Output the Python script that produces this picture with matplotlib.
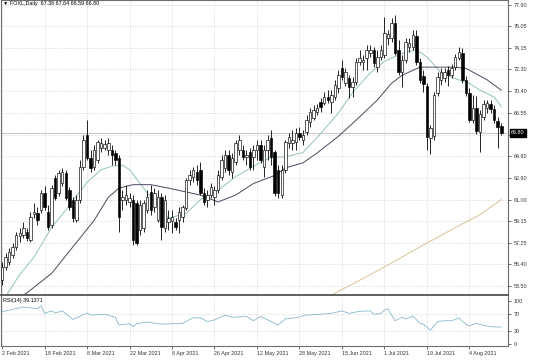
import matplotlib.pyplot as plt
import matplotlib.transforms as mtransforms
import numpy as np

plt.rcParams["font.family"] = ["Liberation Sans", "DejaVu Sans"]

# ---------------------------------------------------------------------
# Data (FOXL daily)
# ---------------------------------------------------------------------
opens = [
    54.03, 55.16, 55.59, 56.20, 56.89, 57.85, 57.93, 58.19, 57.50, 59.76,
    59.84, 60.11, 61.58, 59.93, 58.80, 62.88, 61.58, 62.45, 63.32, 61.84,
    60.97, 59.24, 60.97, 63.84, 66.61, 64.62, 63.84, 64.45, 65.49, 65.49,
    65.31, 65.31, 65.05, 64.62, 60.97, 60.97, 60.80, 60.97, 60.71, 58.37,
    58.54, 60.11, 61.67, 60.36, 59.24, 61.23, 58.54, 59.06, 59.15, 59.06,
    59.24, 59.50, 60.28, 62.71, 62.97, 63.40, 63.58, 61.58, 60.97, 61.41,
    61.23, 61.84, 62.97, 63.75, 64.88, 63.40, 64.27, 65.31, 65.31, 64.71,
    65.14, 64.71, 65.31, 65.75, 63.84, 65.31, 66.35, 65.14, 63.58, 61.41,
    63.58, 65.92, 65.92, 66.01, 66.79, 66.18, 66.87, 67.74, 68.09, 68.61,
    69.48, 69.39, 69.91, 69.48, 69.91, 70.69, 72.43, 71.13, 71.56, 70.78,
    71.22, 72.95, 72.95, 73.30, 73.73, 73.99, 72.52, 73.39, 73.56, 75.04,
    75.04, 76.34, 73.99, 72.08, 73.13, 74.25, 74.25, 75.21, 72.95, 71.74,
    70.87, 66.35, 66.53, 70.26, 71.39, 71.56, 72.26, 71.82, 72.52, 73.30,
    73.73, 71.39, 70.26, 67.92, 68.96, 66.87, 68.18, 68.96, 69.31, 68.87,
    67.83, 67.38,
]
highs = [
    55.59, 56.37, 56.81, 57.24, 58.19, 58.54, 59.06, 58.54, 59.93, 60.71,
    60.36, 61.84, 62.19, 60.54, 62.27, 63.14, 63.58, 63.75, 63.58, 62.10,
    61.23, 61.41, 64.45, 66.61, 67.92, 65.31, 65.75, 66.18, 66.35, 66.18,
    66.35, 65.75, 65.31, 64.88, 61.84, 62.27, 61.58, 61.41, 60.97, 60.97,
    60.97, 61.84, 62.27, 62.01, 61.84, 61.58, 61.41, 60.11, 60.11, 59.41,
    60.36, 60.54, 62.88, 63.58, 63.84, 64.01, 64.27, 62.01, 61.84, 62.45,
    62.19, 63.58, 64.88, 65.31, 65.31, 65.05, 66.18, 66.61, 65.75, 65.31,
    65.49, 65.75, 66.18, 66.18, 65.75, 66.61, 67.05, 65.31, 64.01, 64.01,
    66.18, 66.79, 67.05, 67.22, 67.31, 67.05, 68.35, 68.96, 69.22, 69.31,
    69.83, 70.35, 70.52, 70.52, 71.39, 72.26, 73.13, 72.43, 71.82, 71.65,
    73.30, 73.99, 73.56, 74.43, 74.43, 74.25, 73.99, 74.43, 76.86, 75.73,
    76.77, 77.03, 74.86, 73.56, 75.04, 75.04, 75.73, 75.73, 73.30, 72.26,
    71.13, 67.48, 70.35, 72.08, 72.43, 72.43, 72.60, 72.78, 73.65, 74.25,
    74.17, 71.74, 70.69, 70.09, 70.00, 68.79, 69.65, 69.65, 69.65, 69.22,
    68.18, 67.64,
]
lows = [
    53.59, 54.90, 55.33, 55.94, 56.63, 57.33, 57.67, 57.41, 57.33, 59.41,
    58.80, 59.84, 60.11, 58.37, 58.54, 60.97, 61.32, 62.19, 60.97, 60.11,
    59.06, 59.06, 60.71, 63.58, 64.45, 63.40, 63.58, 64.18, 65.14, 65.31,
    64.88, 64.01, 64.01, 58.19, 60.11, 60.54, 60.36, 57.07, 57.07, 57.93,
    58.19, 59.84, 59.67, 59.93, 59.06, 57.50, 58.19, 58.37, 58.11, 58.37,
    58.11, 59.06, 60.11, 62.27, 62.53, 62.27, 61.41, 60.54, 60.36, 61.15,
    60.54, 61.58, 62.71, 63.40, 63.14, 62.88, 64.01, 64.88, 64.45, 64.01,
    63.58, 63.58, 64.45, 64.18, 62.97, 64.45, 64.01, 61.32, 61.15, 61.15,
    63.32, 65.49, 65.31, 65.31, 66.18, 65.75, 66.61, 67.31, 67.92, 68.35,
    68.61, 69.22, 69.39, 68.53, 69.65, 70.26, 71.39, 70.87, 69.83, 69.91,
    70.96, 72.69, 72.26, 72.26, 73.39, 72.52, 72.08, 73.13, 73.30, 74.43,
    74.69, 73.56, 71.82, 70.78, 72.86, 73.82, 73.99, 72.69, 71.13, 70.35,
    65.31, 64.97, 66.18, 70.00, 70.96, 71.22, 70.87, 71.56, 72.26, 73.13,
    71.13, 70.00, 67.74, 67.66, 66.70, 65.14, 67.92, 68.53, 68.53, 67.66,
    65.49, 66.59,
]
closes = [
    55.16, 56.02, 56.46, 56.89, 57.93, 58.11, 58.54, 57.67, 59.50, 59.93,
    59.24, 61.58, 60.36, 58.63, 62.01, 61.15, 63.32, 63.40, 61.15, 60.36,
    59.41, 60.97, 63.84, 66.18, 64.62, 63.75, 65.31, 66.01, 65.92, 65.83,
    65.92, 64.88, 64.45, 59.50, 61.23, 61.41, 61.15, 57.50, 57.24, 60.54,
    60.71, 61.23, 60.11, 61.58, 61.23, 58.63, 60.97, 59.41, 59.50, 58.63,
    59.93, 60.36, 62.71, 63.14, 63.58, 62.71, 61.58, 60.80, 61.41, 62.10,
    61.84, 63.14, 64.45, 64.88, 63.58, 64.62, 65.92, 66.18, 64.71, 64.88,
    63.84, 65.31, 65.75, 64.45, 65.31, 66.18, 64.71, 61.58, 61.58, 63.58,
    66.01, 66.44, 66.18, 66.79, 66.44, 66.61, 67.92, 68.61, 68.79, 68.96,
    69.05, 69.91, 69.65, 70.09, 70.96, 71.82, 71.65, 72.08, 70.78, 71.22,
    72.95, 73.30, 73.13, 73.99, 73.99, 72.86, 73.39, 73.99, 75.47, 75.38,
    76.34, 73.73, 72.08, 73.13, 74.69, 74.60, 75.30, 72.95, 71.39, 71.04,
    66.44, 67.22, 70.09, 71.65, 72.08, 72.08, 71.82, 72.43, 73.39, 73.82,
    71.39, 70.26, 67.92, 68.96, 66.96, 68.44, 69.31, 69.39, 68.87, 67.92,
    67.31, 66.80,
]

date_labels = [
    "2 Feb 2021", "18 Feb 2021", "8 Mar 2021", "22 Mar 2021", "8 Apr 2021",
    "26 Apr 2021", "12 May 2021", "28 May 2021", "15 Jun 2021", "1 Jul 2021",
    "19 Jul 2021", "4 Aug 2021",
]
bars_per_label = 12

price_ticks = [77.90, 76.05, 74.15, 72.30, 70.40, 68.55, 66.65, 64.80,
               62.90, 61.00, 59.15, 57.25, 55.40, 53.50]

# moving averages, sampled along the chart (bar index, price)
ma_fast_bar = [0, 5, 9, 14, 18, 24, 28, 31, 34, 36, 39, 42, 45, 47, 52, 56,
               61, 66, 71, 76, 80, 85, 89, 95, 99, 104, 108, 113, 117, 120,
               124, 128, 132, 135, 139, 141]
ma_fast_val = [52.1, 54.5, 56.0, 58.6, 60.1, 62.5, 63.6, 63.9, 64.0, 63.6,
               62.4, 61.2, 60.1, 59.4, 59.8, 61.0, 61.8, 63.0, 63.9, 64.7,
               64.7, 65.1, 66.4, 68.5, 70.3, 72.0, 73.0, 73.7, 74.0, 73.4,
               72.0, 71.5, 71.1, 70.5, 69.9, 69.1]

ma_slow_bar = [4, 7, 14, 20, 26, 30, 33, 37, 42, 47, 50, 56, 61, 66, 71, 77,
               80, 85, 89, 95, 100, 106, 110, 113, 118, 122, 128, 131, 137, 141]
ma_slow_val = [52.4, 52.9, 54.6, 56.9, 59.2, 61.2, 62.0, 62.3, 62.3, 62.0,
               61.8, 61.4, 60.8, 61.4, 62.4, 63.1, 63.75, 64.2, 65.05, 66.5,
               67.9, 69.65, 71.1, 71.8, 72.5, 72.5, 72.5, 72.4, 71.4, 70.5]

ma_long_bar = [92, 101, 110, 118, 127, 135, 141]
ma_long_val = [52.55, 54.0, 55.5, 56.9, 58.4, 59.7, 61.0]

# RSI(14), sampled along the chart
rsi_bar = [0, 6, 10, 11, 12, 14, 15, 17, 20, 24, 25, 29, 32, 33, 36, 37, 38,
           41, 44, 46, 51, 54, 56, 58, 60, 63, 65, 69, 71, 73, 78, 80, 83, 86,
           93, 96, 98, 101, 104, 105, 107, 108, 109, 111, 113, 114, 116, 118,
           119, 121, 123, 125, 127, 129, 131, 132, 134, 136, 138, 141]
rsi_val = [75, 86, 82, 89, 71, 77, 72, 77, 57, 72, 67, 69, 62, 44, 47, 40,
           47, 51, 47, 46, 48, 61, 61, 52, 56, 67, 62, 64, 54, 64, 44, 58, 61,
           67, 71, 77, 71, 76, 77, 69, 71, 79, 82, 54, 62, 58, 65, 48, 46, 32,
           52, 54, 54, 60, 46, 42, 48, 43, 40, 39.1371]
rsi_levels = [100, 70, 30, 0]

last_price = closes[-1]

# ---------------------------------------------------------------------
# Figure
# ---------------------------------------------------------------------
W, H = 536, 362
fig = plt.figure(figsize=(W / 100, H / 100), dpi=100)
ax = fig.add_axes([1 / W, 1 - 294 / H, 507 / W, 294 / H])
axr = fig.add_axes([1 / W, 1 - 346 / H, 507 / W, 51 / H], sharex=ax)

FS = 3.9
GRID = dict(color="#c8c8c8", lw=0.5, ls=(0, (1, 1.5)))
FRAME = "#6e6e6e"

x = np.arange(len(closes))
o = np.array(opens)
c = np.array(closes)
up = c >= o

# candles
ax.vlines(x, lows, highs, color="black", lw=0.6, zorder=3)
body_lo = np.minimum(o, c)
body_h = np.maximum(np.abs(c - o), 0.04)
ax.bar(x[up], body_h[up], bottom=body_lo[up], width=0.7,
       color="white", edgecolor="black", linewidth=0.45, zorder=4)
ax.bar(x[~up], body_h[~up], bottom=body_lo[~up], width=0.7,
       color="black", edgecolor="black", linewidth=0.45, zorder=4)

# moving averages
ax.plot(ma_fast_bar, ma_fast_val, color="#93c4b6", lw=0.7, zorder=2)
ax.plot(ma_slow_bar, ma_slow_val, color="#4d4760", lw=0.7, zorder=2)
ax.plot(ma_long_bar, ma_long_val, color="#d9c394", lw=0.7, zorder=2)

# current price line
ax.axhline(last_price, color="#bdbdbd", lw=0.6, zorder=1)

ax.set_ylim(52.81, 78.33)
ax.set_xlim(-0.3, 142.9)

tick_pos = np.arange(len(date_labels)) * bars_per_label
for a in (ax, axr):
    for p in tick_pos:
        a.axvline(p, zorder=0, **GRID)
for p in price_ticks:
    ax.axhline(p, zorder=0, **GRID)

ax.yaxis.tick_right()
ax.set_yticks(price_ticks)
ax.set_yticklabels([f"{p:.2f}" if abs(p - 66.65) > 0.01 else "" for p in price_ticks])
ax.tick_params(axis="y", length=2, width=0.5, pad=2, labelsize=FS, colors="#333333")
ax.tick_params(axis="x", length=0, labelbottom=False)

blend = mtransforms.blended_transform_factory(ax.transAxes, ax.transData)
ax.text(1.006, last_price, f"{last_price:.2f}", transform=blend, fontsize=FS,
        color="white", va="center", ha="left", zorder=10,
        bbox=dict(boxstyle="square,pad=0.25", fc="black", ec="black"))

ax.text(0.004, 0.995, "\u25bc FOXL,Daily  67.38 67.64 66.59 66.80",
        transform=ax.transAxes, fontsize=FS, va="top", ha="left")

# RSI panel
axr.plot(rsi_bar, rsi_val, color="#86b8cc", lw=0.6)
for lv in (70, 30):
    axr.axhline(lv, zorder=0, **GRID)
axr.set_ylim(-5, 114)
axr.yaxis.tick_right()
axr.set_yticks(rsi_levels)
axr.set_yticklabels([str(v) for v in rsi_levels])
axr.tick_params(axis="y", length=2, width=0.5, pad=2, labelsize=FS, colors="#333333")
axr.set_xticks(tick_pos)
axr.set_xticklabels(date_labels, ha="left")
axr.tick_params(axis="x", length=2, width=0.5, pad=1.5, labelsize=FS, colors="#333333")
axr.text(0.004, 0.95, f"RSI(14) {rsi_val[-1]:.4f}",
         transform=axr.transAxes, fontsize=FS, va="top", ha="left")

for a in (ax, axr):
    for s in a.spines.values():
        s.set_color(FRAME)
        s.set_linewidth(0.8)
ax.spines["bottom"].set_visible(False)
axr.spines["top"].set_color("#444444")
axr.spines["top"].set_linewidth(1.2)

fig.savefig("out.png", dpi=100, facecolor="white")
plt.close(fig)
